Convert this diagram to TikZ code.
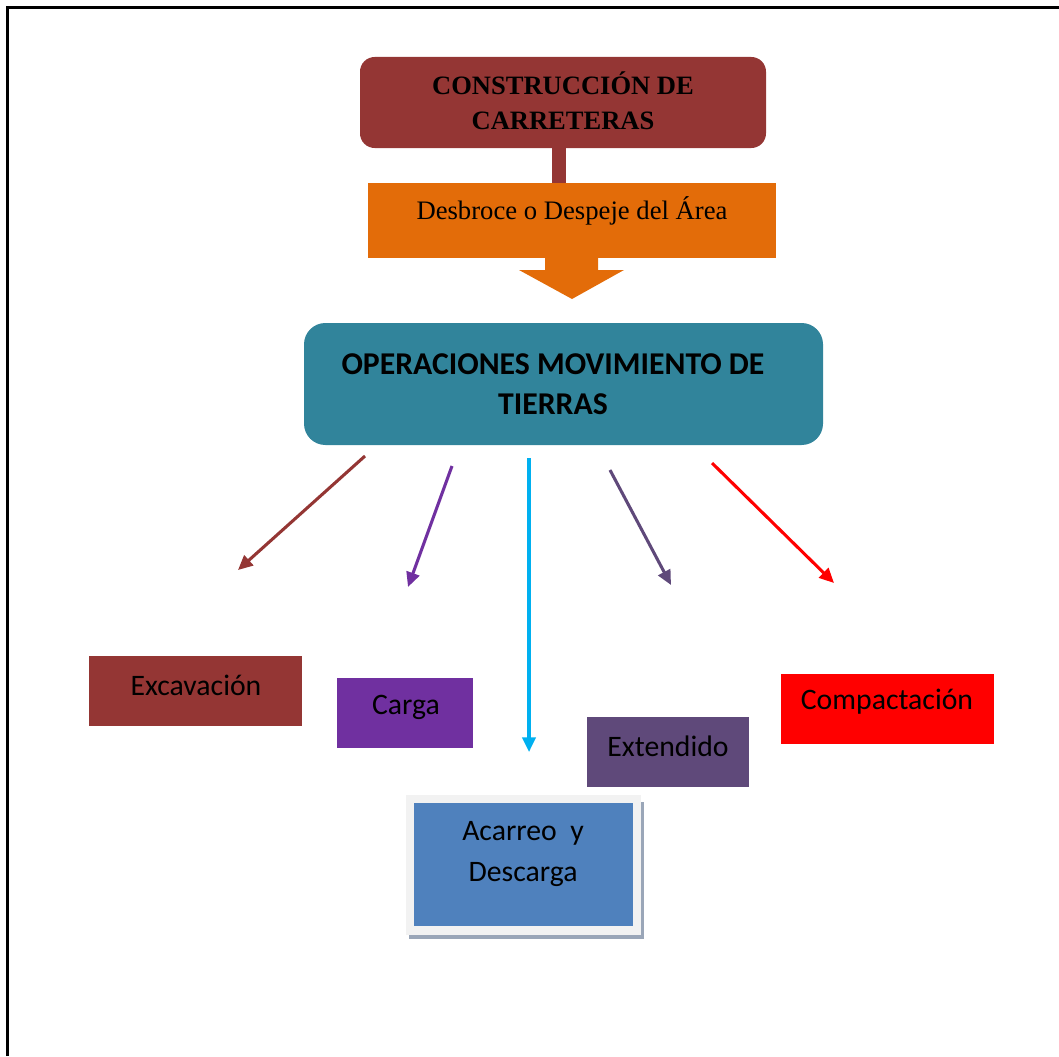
\documentclass[tikz,border=0pt]{standalone}
\usepackage{fontspec}
\setmainfont{Liberation Serif}
\newfontfamily\calibri{Carlito}
\usetikzlibrary{arrows.meta}
\definecolor{cbrown}{HTML}{943634}
\definecolor{corange}{HTML}{E36C09}
\definecolor{cteal}{HTML}{31849B}
\definecolor{cpurple}{HTML}{7030A0}
\definecolor{ccyan}{HTML}{00B0F0}
\definecolor{cgrape}{HTML}{5F497A}
\definecolor{cred}{HTML}{FF0000}
\definecolor{cblue}{HTML}{4F81BD}
\definecolor{cframe}{HTML}{F2F2F2}
\definecolor{cshadow}{HTML}{9AA6B8}
\begin{document}
\begin{tikzpicture}[x=0.75pt,y=-0.75pt,
  boxnode/.style={draw=none,inner sep=0pt,anchor=north west,outer sep=0pt},
  lbl/.style={font=\calibri\fontsize{22.3}{31}\selectfont,text=black,align=center,inner sep=0pt},
  conn/.style={line width=2.3pt,-{Triangle[length=11pt,width=10pt]}}
]
\useasboundingbox (0,0) rectangle (1059,1056);
% page border (top and left)
\draw[line width=2.3pt] (7.5,1056) -- (7.5,7.5) -- (1059,7.5);

% top title
\node[boxnode,fill=cbrown,rounded corners=11pt,minimum width=406*0.75pt,minimum height=91*0.75pt] (top) at (360,57) {};
\node[font=\bfseries\fontsize{19.9}{26}\selectfont,align=center,inner sep=0pt] (toptxt) at (563,101) {CONSTRUCCIÓN DE\\CARRETERAS};

% orange box with down arrow
\coordinate (stemx) at (559,0);
\node[boxnode,fill=corange,minimum width=408*0.75pt,minimum height=75*0.75pt] (desb) at (368,183) {};
\draw[cbrown,line width=14*0.75pt] (top.south -| stemx) -- (desb.north -| stemx);
\fill[corange] (545,257) -- (545,270) -- (519,270) -- (572,299) -- (624,270) -- (598,270) -- (598,257) -- cycle;
\node[font=\fontsize{20}{24}\selectfont,inner sep=0pt] (desbtxt) at (572,211) {Desbroce o Despeje del Área};

% teal box
\node[boxnode,fill=cteal,rounded corners=16pt,minimum width=519*0.75pt,minimum height=122*0.75pt] (ops) at (304,323) {};
\node[font=\calibri\bfseries\fontsize{23.8}{30}\selectfont,align=center,inner sep=0pt] (opstxt) at (553,384) {OPERACIONES MOVIMIENTO DE\\TIERRAS};

% target boxes
\node[boxnode,fill=cbrown,minimum width=213*0.75pt,minimum height=70*0.75pt] (exc) at (89,656) {};
\node[lbl] (exctxt) at (196,685) {Excavación};
\node[boxnode,fill=cpurple,minimum width=136*0.75pt,minimum height=70*0.75pt] (car) at (337,678) {};
\node[lbl] (cartxt) at (406,707) {Carga};
\node[boxnode,fill=cgrape,minimum width=162*0.75pt,minimum height=70*0.75pt] (ext) at (587,717) {};
\node[lbl] (exttxt) at (668,746) {Extendido};
\node[boxnode,fill=cred,minimum width=213*0.75pt,minimum height=70*0.75pt] (com) at (781,674) {};
\node[lbl] (comtxt) at (887,702) {Compactación};

% acarreo box with frame and shadow
\fill[cshadow] (409,802) rectangle (644,939);
\node[boxnode,fill=cframe,minimum width=235*0.75pt,minimum height=140*0.75pt] (acaf) at (406,795) {};
\node[boxnode,fill=cblue,minimum width=219*0.75pt,minimum height=123*0.75pt] (aca) at (414,803) {};
\node[lbl] (acatxt) at (523,854) {Acarreo\ \ y\\Descarga};

% connectors
\coordinate (a1s) at (365,456); \coordinate (a1e) at (238,570);
\coordinate (a2s) at (452,466); \coordinate (a2e) at (408,587);
\coordinate (a3s) at (529,458); \coordinate (a3e) at (529,752);
\coordinate (a4s) at (610,470); \coordinate (a4e) at (671,585);
\coordinate (a5s) at (712,463); \coordinate (a5e) at (834,583);
\draw[conn,cbrown] (a1s) -- (a1e);
\draw[conn,cpurple] (a2s) -- (a2e);
\draw[conn,ccyan] (a3s) -- (a3e);
\draw[conn,cgrape] (a4s) -- (a4e);
\draw[conn,cred] (a5s) -- (a5e);
\end{tikzpicture}
\end{document}
